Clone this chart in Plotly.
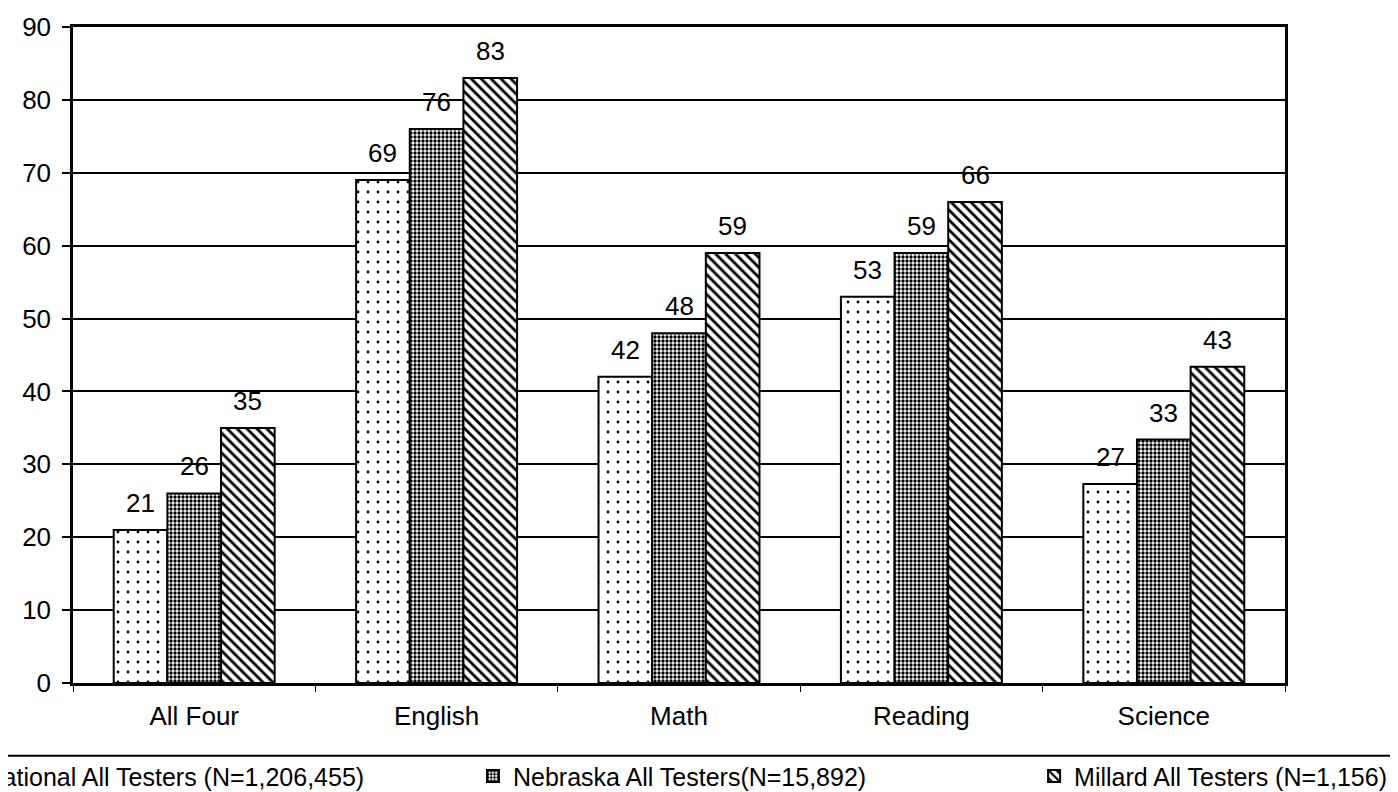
import plotly.graph_objects as go

categories = ["All Four", "English", "Math", "Reading", "Science"]
national = [21, 69, 42, 53, 27.3]
nebraska = [26, 76, 48, 59, 33.4]
millard = [35, 83, 59, 66, 43.4]
series_names = [
    "National All Testers (N=1,206,455)",
    "Nebraska All Testers(N=15,892)",
    "Millard All Testers (N=1,156)",
]
y_ticks = [0, 10, 20, 30, 40, 50, 60, 70, 80, 90]

FONT = "Arial, Liberation Sans, sans-serif"
FS = 26
FS_LEG = 25

ML, MR, MT, MB = 65, 121, 19, 117
W, H = 1398, 792
BARGAP = 0.336
plot_w = W - ML - MR
bar_px = plot_w / len(categories) * (1 - BARGAP) / 3

patterns = [
    dict(shape=".", size=10, solidity=0.06, fgcolor="black", bgcolor="white", fillmode="replace"),
    dict(shape=".", size=4, solidity=0.55, fgcolor="black", bgcolor="white", fillmode="replace"),
    dict(shape="\\", size=7, solidity=0.4, fgcolor="black", bgcolor="white", fillmode="replace"),
]
legends = ["legend", "legend2", "legend3"]
all_series = [national, nebraska, millard]

fig = go.Figure()
for name, vals, pat, lg in zip(series_names, all_series, patterns, legends):
    fig.add_trace(go.Bar(
        x=categories, y=vals, name=name,
        marker=dict(color="white", pattern=pat, line=dict(color="black", width=2)),
        cliponaxis=False, legend=lg,
    ))

# value labels above bars
annotations = []
for i, vals in enumerate(all_series):
    for c, v in zip(categories, vals):
        annotations.append(dict(
            x=c, y=v, xref="x", yref="y", text=f"{v:.0f}", showarrow=False,
            xanchor="center", yanchor="bottom", xshift=(i - 1) * bar_px, yshift=10,
            font=dict(family=FONT, size=FS, color="black"),
        ))

leg_common = dict(orientation="h", yanchor="middle", y=-0.142, xanchor="left",
                  font=dict(family=FONT, size=FS_LEG, color="black"),
                  bgcolor="rgba(0,0,0,0)", borderwidth=0)

fig.update_layout(
    width=W, height=H,
    margin=dict(l=ML, r=MR, t=MT, b=MB, autoexpand=False),
    paper_bgcolor="white", plot_bgcolor="white",
    barmode="group", bargap=BARGAP, bargroupgap=0,
    font=dict(family=FONT, size=FS, color="black"),
    legend=dict(x=-0.106, **leg_common),
    legend2=dict(x=0.330, **leg_common),
    legend3=dict(x=0.793, **leg_common),
    showlegend=True,
    annotations=annotations,
    yaxis=dict(range=[0, 90], tickvals=y_ticks, showgrid=True, gridcolor="black", gridwidth=1.5,
               showline=True, linecolor="black", linewidth=2.5, mirror=True,
               ticks="outside", ticklen=8, tickcolor="black", tickwidth=1.5,
               ticklabelstandoff=6,
               tickfont=dict(family=FONT, size=FS, color="black"), zeroline=False),
    xaxis=dict(showline=True, linecolor="black", linewidth=2.5, mirror=True,
               ticks="outside", tickson="boundaries", ticklen=6, tickcolor="black",
               ticklabelstandoff=8,
               tickfont=dict(family=FONT, size=FS, color="black")),
    shapes=[dict(type="line", xref="paper", yref="paper", x0=-0.1, x1=1.2,
                 y0=-0.111, y1=-0.111, line=dict(color="black", width=2))],
)

fig.write_html("out.html")
